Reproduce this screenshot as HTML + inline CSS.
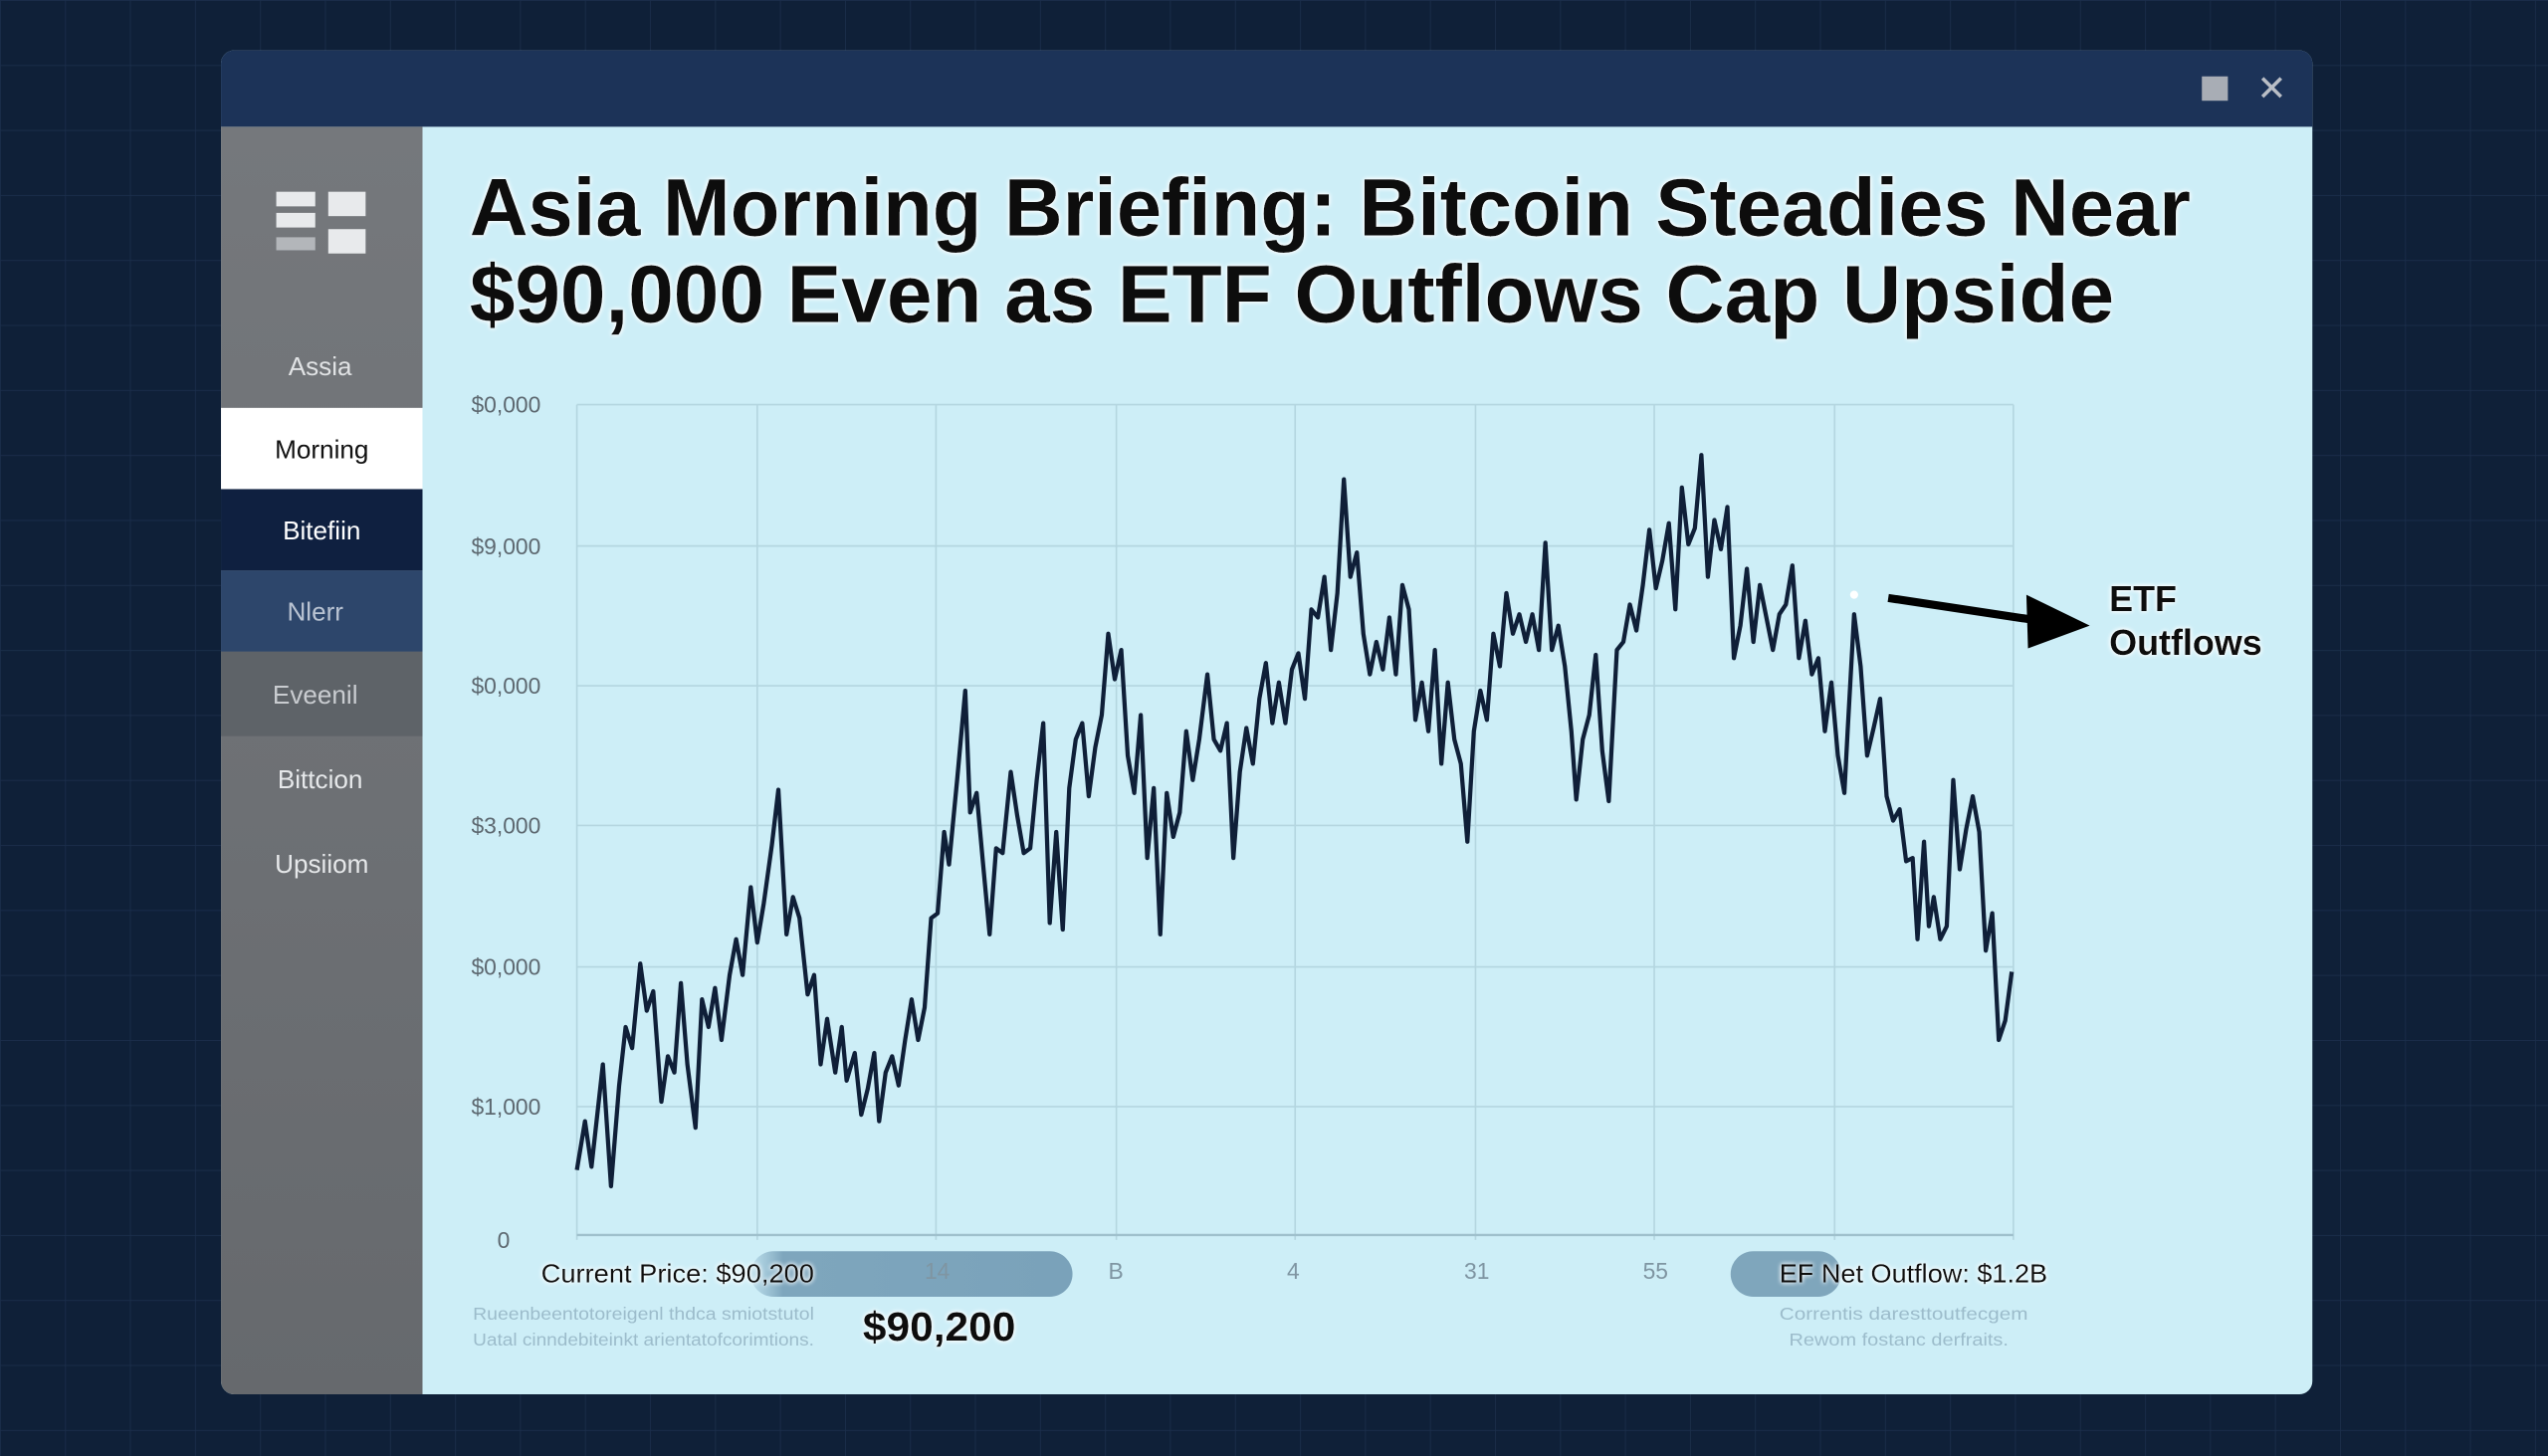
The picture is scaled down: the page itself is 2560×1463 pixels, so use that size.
<!DOCTYPE html>
<html><head><meta charset="utf-8"><style>
html,body{margin:0;padding:0;background:#0f2038;}
svg{display:block;}
text{font-family:"Liberation Sans",sans-serif;}
</style></head><body>
<svg width="2560" height="1463" viewBox="0 0 1568 896" preserveAspectRatio="none" xmlns="http://www.w3.org/2000/svg">
<defs>
<pattern id="g" width="40" height="40" patternUnits="userSpaceOnUse"><path d="M40 0H0V40" fill="none" stroke="#1b2e4b" stroke-width="1"/></pattern>
<linearGradient id="sb" x1="0" y1="0" x2="0" y2="1"><stop offset="0" stop-color="#75787c"/><stop offset="1" stop-color="#66696d"/></linearGradient>
<linearGradient id="pill" x1="0" y1="0" x2="1" y2="0"><stop offset="0" stop-color="#8fb6cc" stop-opacity="0.3"/><stop offset="0.1" stop-color="#7ea6bd"/><stop offset="1" stop-color="#7aa2ba"/></linearGradient>
<filter id="glow"><feGaussianBlur stdDeviation="1.5" in="SourceAlpha" result="b"/><feFlood flood-color="#fff"/><feComposite in2="b" operator="in"/><feMerge><feMergeNode/><feMergeNode/><feMergeNode in="SourceGraphic"/></feMerge></filter>
</defs>
<rect width="1568" height="896" fill="#0f2038"/>
<rect width="1568" height="896" fill="url(#g)"/>
<rect x="136" y="31" width="1287" height="827" rx="8" fill="#cdeef7"/>
<path d="M144 31H1415a8 8 0 0 1 8 8V78H136V39a8 8 0 0 1 8-8z" fill="#1c3358"/>
<rect x="1355" y="47" width="16" height="15" fill="#a8adb5"/>
<text x="1398" y="62" font-size="22" fill="#b9bec6" text-anchor="middle">✕</text>
<path d="M136 78H260V858H144a8 8 0 0 1-8-8z" fill="url(#sb)"/>
<rect x="170" y="118" width="24" height="9" fill="#e8eaec"/><rect x="202" y="118" width="23" height="15" fill="#e8eaec"/>
<rect x="170" y="131" width="24" height="9" fill="#e8eaec"/><rect x="202" y="141" width="23" height="15" fill="#e8eaec"/>
<rect x="170" y="146" width="24" height="8" fill="#cfd2d6" opacity="0.7"/>
<text x="197" y="231" font-size="16" fill="#e0e2e4" text-anchor="middle">Assia</text>
<rect x="136" y="251" width="124" height="50" fill="#ffffff"/>
<text x="198" y="282" font-size="16" fill="#111" text-anchor="middle">Morning</text>
<rect x="136" y="301" width="124" height="50" fill="#0f2040"/>
<text x="198" y="332" font-size="16" fill="#fff" text-anchor="middle">Bitefiin</text>
<rect x="136" y="351" width="124" height="50" fill="#2d466b"/>
<text x="194" y="382" font-size="16" fill="#b9c3d2" text-anchor="middle">Nlerr</text>
<rect x="136" y="401" width="124" height="52" fill="#5e6368"/>
<text x="194" y="433" font-size="16" fill="#c9ccd0" text-anchor="middle">Eveenil</text>
<text x="197" y="485" font-size="16" fill="#e6e8ea" text-anchor="middle">Bittcion</text>
<text x="198" y="537" font-size="16" fill="#e6e8ea" text-anchor="middle">Upsiiom</text>
<g filter="url(#glow)" font-weight="bold" font-size="50" fill="#0a0a0a">
<text x="289" y="145" textLength="1059" lengthAdjust="spacingAndGlyphs">Asia Morning Briefing: Bitcoin Steadies Near</text>
<text x="289" y="198" textLength="1012" lengthAdjust="spacingAndGlyphs">$90,000 Even as ETF Outflows Cap Upside</text>
</g>
<g stroke="#b4d6e0" stroke-width="1">
<line x1="355" y1="249" x2="1239" y2="249"/><line x1="355" y1="336" x2="1239" y2="336"/><line x1="355" y1="422" x2="1239" y2="422"/><line x1="355" y1="508" x2="1239" y2="508"/><line x1="355" y1="595" x2="1239" y2="595"/><line x1="355" y1="681" x2="1239" y2="681"/>
<line x1="355" y1="249" x2="355" y2="763"/><line x1="466" y1="249" x2="466" y2="763"/><line x1="576" y1="249" x2="576" y2="763"/><line x1="687" y1="249" x2="687" y2="763"/><line x1="797" y1="249" x2="797" y2="763"/><line x1="908" y1="249" x2="908" y2="763"/><line x1="1018" y1="249" x2="1018" y2="763"/><line x1="1129" y1="249" x2="1129" y2="763"/><line x1="1239" y1="249" x2="1239" y2="763"/>
</g>
<line x1="355" y1="760" x2="1239" y2="760" stroke="#9fc0cc" stroke-width="1.5"/>
<g font-size="14" fill="#5d6870">
<text x="290" y="254">$0,000</text><text x="290" y="341">$9,000</text><text x="290" y="427">$0,000</text><text x="290" y="513">$3,000</text><text x="290" y="600">$0,000</text><text x="290" y="686">$1,000</text><text x="306" y="768">0</text>
</g>
<polyline fill="none" stroke="#0f1f38" stroke-width="2.6" stroke-linejoin="round" points="355,720 360,690 364,718 371,655 376,730 381,668 385,632 389,645 394,593 398,622 402,610 407,678 411,650 415,660 419,605 423,655 428,694 432,615 436,632 440,608 444,640 449,600 453,578 457,600 462,546 466,580 470,556 475,520 479,486 484,575 488,552 492,565 497,612 501,600 505,655 509,627 514,660 518,632 521,665 526,648 530,686 534,670 538,648 541,690 545,660 549,650 553,668 557,640 561,615 565,640 569,620 573,565 577,562 581,512 584,532 589,480 594,425 597,500 601,488 605,532 609,575 613,522 617,525 622,475 626,502 630,525 634,522 638,480 642,445 646,568 650,512 654,572 658,485 662,455 666,445 670,490 674,460 678,440 682,390 686,418 690,400 694,465 698,488 702,440 706,528 710,485 714,575 718,488 722,515 726,500 730,450 734,480 738,455 743,415 747,455 751,462 755,445 759,528 763,475 767,448 771,470 775,430 779,408 783,445 787,420 791,445 795,412 799,402 803,430 807,375 811,380 815,355 819,400 823,365 827,295 831,355 835,340 839,390 843,415 847,395 851,412 855,380 859,415 863,360 867,375 871,443 875,420 879,450 883,400 887,470 891,420 895,455 899,470 903,518 907,450 911,425 915,443 919,390 923,410 927,365 931,390 935,378 939,395 943,378 947,400 951,334 955,400 959,385 963,410 967,450 970,492 974,455 978,440 982,403 986,462 990,493 995,400 999,395 1003,372 1007,388 1011,360 1015,326 1019,362 1023,345 1027,322 1031,375 1035,300 1039,335 1043,325 1047,280 1051,355 1055,320 1059,338 1063,312 1067,405 1071,385 1075,350 1079,395 1083,360 1087,380 1091,400 1095,378 1099,372 1103,348 1107,405 1111,382 1115,415 1119,405 1123,450 1127,420 1131,465 1135,488 1137,450 1141,378 1145,410 1149,465 1153,448 1157,430 1161,490 1165,505 1169,498 1173,530 1177,528 1180,578 1184,518 1187,570 1190,552 1194,578 1198,570 1202,480 1206,535 1210,510 1214,490 1218,512 1222,585 1226,562 1230,640 1234,628 1238,598"/>
<circle cx="1141" cy="366" r="2.5" fill="#fff"/>
<line x1="1162" y1="368" x2="1255" y2="382" stroke="#000" stroke-width="5"/>
<polygon points="1247,366 1286,385 1248,399" fill="#000"/>
<g filter="url(#glow)" font-weight="bold" font-size="22" fill="#0a0a0a">
<text x="1298" y="376">ETF</text><text x="1298" y="403">Outflows</text>
</g>
<rect x="462" y="770" width="198" height="28" rx="14" fill="url(#pill)"/>
<rect x="1065" y="770" width="68" height="28" rx="14" fill="#7fa6bc"/>
<g font-size="14" fill="#7f95a2"><text x="569" y="787">14</text><text x="682" y="787">B</text><text x="792" y="787">4</text><text x="901" y="787">31</text><text x="1011" y="787">55</text></g>
<g filter="url(#glow)" fill="#0a0a0a">
<text x="333" y="789" font-size="16" textLength="168" lengthAdjust="spacingAndGlyphs">Current Price: $90,200</text>
<text x="1095" y="789" font-size="16" textLength="165" lengthAdjust="spacingAndGlyphs">EF Net Outflow: $1.2B</text>
<text x="531" y="825" font-size="25" font-weight="bold" textLength="94" lengthAdjust="spacingAndGlyphs">$90,200</text>
</g>
<g font-size="11" fill="#9cbccb">
<text x="291" y="812" textLength="210" lengthAdjust="spacingAndGlyphs">Rueenbeentotoreigenl thdca smiotstutol</text>
<text x="291" y="828" textLength="210" lengthAdjust="spacingAndGlyphs">Uatal cinndebiteinkt arientatofcorimtions.</text>
<text x="1095" y="812" textLength="153" lengthAdjust="spacingAndGlyphs">Correntis daresttoutfecgem</text>
<text x="1101" y="828" textLength="135" lengthAdjust="spacingAndGlyphs">Rewom fostanc derfraits.</text>
</g>
</svg>
</body></html>
